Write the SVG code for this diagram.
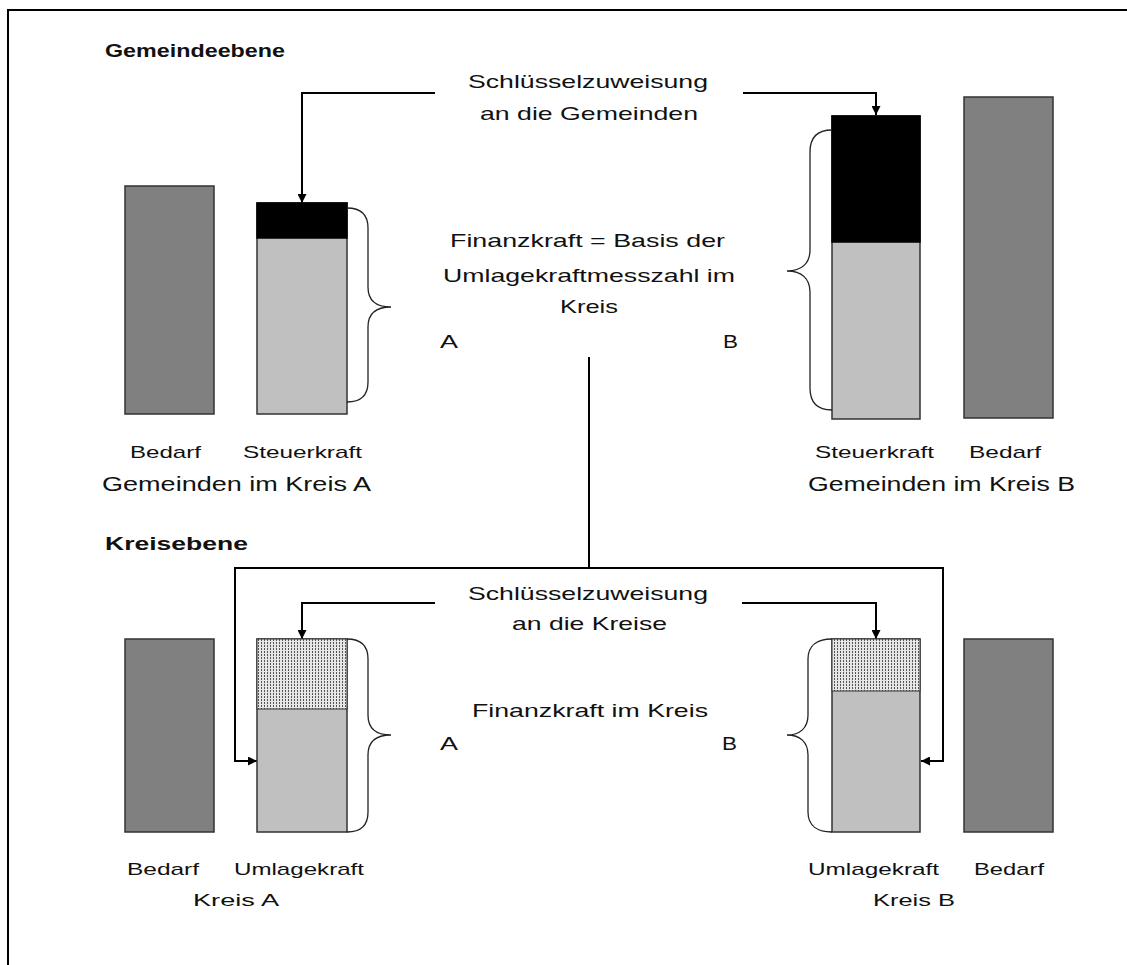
<svg xmlns="http://www.w3.org/2000/svg" width="1127" height="965" viewBox="0 0 1127 965">
<style>
  text { font-family: "Liberation Sans", Arial, sans-serif; fill: #111; }
  .h { font-size: 18px; font-weight: bold; }
  .t { font-size: 19px; }
  .l { font-size: 17px; }
  .g { font-size: 20px; }
  .bed { fill: #808080; stroke: #333; stroke-width: 1.5; }
  .lt { fill: #c0c0c0; stroke: #333; stroke-width: 1.5; }
  .blk { fill: #000; stroke: #000; stroke-width: 1.5; }
  .dot { fill: url(#dots); stroke: #333; stroke-width: 1; }
  .br { fill: none; stroke: #222; stroke-width: 1.3; }
  .c { fill: none; stroke: #000; stroke-width: 2; }
  .ca { fill: none; stroke: #000; stroke-width: 2; marker-end: url(#arr); }
</style>
<defs>
  <marker id="arr" viewBox="0 0 10 10" refX="10" refY="5" markerWidth="10" markerHeight="9" markerUnits="userSpaceOnUse" orient="auto">
    <path d="M0,0 L10,5 L0,10 z" fill="#000"/>
  </marker>
  <pattern id="dots" width="3" height="3" patternUnits="userSpaceOnUse">
    <rect width="3" height="3" fill="#e6e6e6"/>
    <rect width="1" height="2" fill="#555"/>
  </pattern>
</defs>
<rect width="1127" height="965" fill="#fff"/>
<rect id="frame" x="8" y="10" width="1140" height="980" fill="none" stroke="#000" stroke-width="2"/>

<text class="h" x="105" y="57" textLength="180" lengthAdjust="spacingAndGlyphs">Gemeindeebene</text>
<text class="h" x="105" y="550" textLength="143" lengthAdjust="spacingAndGlyphs">Kreisebene</text>

<g id="connectors">
  <path class="ca" d="M435,93 H302 V203"/>
  <path class="ca" d="M743,93 H876 V115"/>
  <path class="c" d="M589,357 V568"/>
  <path class="ca" d="M589,568 H235 V761 H257"/>
  <path class="ca" d="M589,568 H943 V761 H921"/>
  <path class="ca" d="M435,603 H302 V639"/>
  <path class="ca" d="M742,603 H876 V639"/>
</g>

<g id="label-schluessel-gemeinden">
  <text class="t" x="468" y="88" textLength="240" lengthAdjust="spacingAndGlyphs">Schlüsselzuweisung</text>
  <text class="t" x="480" y="120" textLength="218" lengthAdjust="spacingAndGlyphs">an die Gemeinden</text>
</g>

<g id="label-finanzkraft-gemeinden">
  <text class="t" x="450" y="247" textLength="275" lengthAdjust="spacingAndGlyphs">Finanzkraft = Basis der</text>
  <text class="t" x="443" y="282" textLength="292" lengthAdjust="spacingAndGlyphs">Umlagekraftmesszahl im</text>
  <text class="t" x="560" y="313" textLength="58" lengthAdjust="spacingAndGlyphs">Kreis</text>
  <text class="t" x="440" y="348" textLength="18" lengthAdjust="spacingAndGlyphs">A</text>
  <text class="t" x="723" y="348" textLength="15" lengthAdjust="spacingAndGlyphs">B</text>
</g>

<g id="gemeinden-a">
  <rect id="bedarf-ga" class="bed" x="125" y="186" width="89" height="228"/>
  <rect class="lt" x="257" y="203" width="90" height="211"/>
  <rect id="zuweisung-ga" class="blk" x="257" y="203" width="90" height="35"/>
  <path class="br" d="M347,208 C360,208 368,214 368,228 V287 C368,300 376,307 391,307 C376,307 368,314 368,327 V382 C368,396 360,402 347,402"/>
  <text class="l" x="130" y="458" textLength="71" lengthAdjust="spacingAndGlyphs">Bedarf</text>
  <text class="l" x="243" y="458" textLength="119" lengthAdjust="spacingAndGlyphs">Steuerkraft</text>
  <text class="g" x="102" y="491" textLength="269" lengthAdjust="spacingAndGlyphs">Gemeinden im Kreis A</text>
</g>

<g id="gemeinden-b">
  <rect class="lt" x="832" y="116" width="88" height="303"/>
  <rect id="zuweisung-gb" class="blk" x="832" y="116" width="88" height="126"/>
  <rect id="bedarf-gb" class="bed" x="964" y="97" width="89" height="321"/>
  <path class="br" d="M832,130 C818,130 810,137 810,152 V250 C810,263 802,271 787,271 C802,271 810,279 810,292 V388 C810,403 818,410 832,410"/>
  <text class="l" x="815" y="458" textLength="119" lengthAdjust="spacingAndGlyphs">Steuerkraft</text>
  <text class="l" x="969" y="458" textLength="72" lengthAdjust="spacingAndGlyphs">Bedarf</text>
  <text class="g" x="808" y="491" textLength="267" lengthAdjust="spacingAndGlyphs">Gemeinden im Kreis B</text>
</g>

<g id="label-schluessel-kreise">
  <text class="t" x="468" y="600" textLength="240" lengthAdjust="spacingAndGlyphs">Schlüsselzuweisung</text>
  <text class="t" x="512" y="630" textLength="155" lengthAdjust="spacingAndGlyphs">an die Kreise</text>
</g>

<g id="label-finanzkraft-kreis">
  <text class="t" x="472" y="717" textLength="236" lengthAdjust="spacingAndGlyphs">Finanzkraft im Kreis</text>
  <text class="t" x="440" y="750" textLength="18" lengthAdjust="spacingAndGlyphs">A</text>
  <text class="t" x="722" y="750" textLength="15" lengthAdjust="spacingAndGlyphs">B</text>
</g>

<g id="kreis-a">
  <rect id="bedarf-ka" class="bed" x="125" y="639" width="89" height="193"/>
  <rect class="lt" x="257" y="639" width="90" height="193"/>
  <rect id="zuweisung-ka" class="dot" x="257" y="639" width="90" height="70"/>
  <path class="br" d="M347,639 C360,639 368,645 368,659 V715 C368,728 376,735 391,735 C376,735 368,742 368,755 V812 C368,826 360,832 347,832"/>
  <text class="l" x="127" y="875" textLength="72" lengthAdjust="spacingAndGlyphs">Bedarf</text>
  <text class="l" x="234" y="875" textLength="130" lengthAdjust="spacingAndGlyphs">Umlagekraft</text>
  <text class="l" x="193" y="906" textLength="86" lengthAdjust="spacingAndGlyphs">Kreis A</text>
</g>

<g id="kreis-b">
  <rect class="lt" x="832" y="639" width="88" height="193"/>
  <rect id="zuweisung-kb" class="dot" x="832" y="639" width="88" height="52"/>
  <rect id="bedarf-kb" class="bed" x="964" y="639" width="89" height="193"/>
  <path class="br" d="M832,639 C818,639 808,645 808,659 V715 C808,728 800,735 787,735 C800,735 808,742 808,755 V812 C808,826 818,832 832,832"/>
  <text class="l" x="808" y="875" textLength="131" lengthAdjust="spacingAndGlyphs">Umlagekraft</text>
  <text class="l" x="974" y="875" textLength="70" lengthAdjust="spacingAndGlyphs">Bedarf</text>
  <text class="l" x="873" y="906" textLength="82" lengthAdjust="spacingAndGlyphs">Kreis B</text>
</g>
</svg>
